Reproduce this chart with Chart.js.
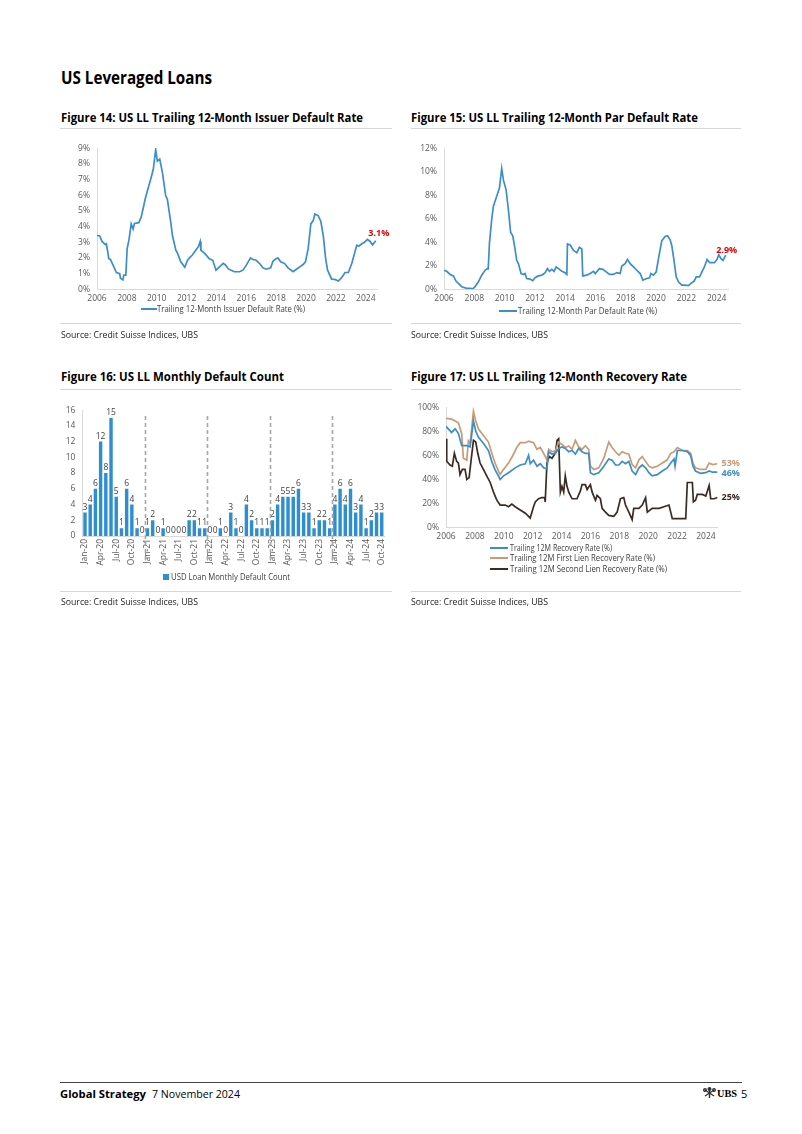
<!DOCTYPE html>
<html><head><meta charset="utf-8">
<script src="https://cdn.jsdelivr.net/npm/chart.js@4.4.0/dist/chart.umd.min.js"></script>
<style>
html,body{margin:0;padding:0;background:#fff;}
body{width:802px;height:1134px;position:relative;overflow:hidden;font-family:"Open Sans",sans-serif;color:#000;}
.t{position:absolute;white-space:nowrap;line-height:1;transform-origin:0 50%;transform:translateY(-50%);}
.b{font-weight:700;}
.rule{position:absolute;height:1px;background:#d6d6d6;}
canvas{position:absolute;}
.lg{position:absolute;height:2px;}
</style></head><body>

<div class="t b" style="left:61px;top:77px;font-size:17px" data-w="151">US Leveraged Loans</div>

<div class="t b" style="left:61px;top:118px;font-size:12px" data-w="302">Figure 14: US LL Trailing 12-Month Issuer Default Rate</div>
<div class="rule" style="left:60px;top:128px;width:332px"></div>
<div class="t b" style="left:411px;top:118px;font-size:12px" data-w="287">Figure 15: US LL Trailing 12-Month Par Default Rate</div>
<div class="rule" style="left:411px;top:128px;width:330px"></div>

<canvas id="c1" width="335" height="170" style="left:60px;top:136px"></canvas>
<canvas id="c2" width="340" height="170" style="left:405px;top:136px"></canvas>

<div class="lg" style="left:141px;top:308px;width:16px;background:#3b8ec8"></div>
<div class="t" style="left:157px;top:309px;font-size:8.5px;color:#404040" data-w="148">Trailing 12-Month Issuer Default Rate (%)</div>
<div class="lg" style="left:499px;top:310px;width:18px;background:#3b8ec8"></div>
<div class="t" style="left:518px;top:311px;font-size:8.5px;color:#404040" data-w="139">Trailing 12-Month Par Default Rate (%)</div>

<div class="rule" style="left:60px;top:323px;width:332px"></div>
<div class="t" style="left:61px;top:335px;font-size:9.5px;color:#222" data-w="137">Source: Credit Suisse Indices, UBS</div>
<div class="rule" style="left:411px;top:323px;width:330px"></div>
<div class="t" style="left:411px;top:335px;font-size:9.5px;color:#222" data-w="137">Source: Credit Suisse Indices, UBS</div>

<div class="t b" style="left:61px;top:377px;font-size:12px" data-w="223">Figure 16: US LL Monthly Default Count</div>
<div class="rule" style="left:60px;top:389px;width:332px"></div>
<div class="t b" style="left:411px;top:377px;font-size:12px" data-w="276">Figure 17: US LL Trailing 12-Month Recovery Rate</div>
<div class="rule" style="left:411px;top:389px;width:330px"></div>

<canvas id="c3" width="340" height="175" style="left:55px;top:398px"></canvas>
<canvas id="c4" width="360" height="150" style="left:405px;top:395px"></canvas>

<div style="position:absolute;left:163px;top:574px;width:6px;height:6px;background:#2e8ece"></div>
<div class="t" style="left:171px;top:577px;font-size:8.5px;color:#404040" data-w="119">USD Loan Monthly Default Count</div>

<div class="lg" style="left:490px;top:547px;width:18px;background:#3b8ec8"></div>
<div class="t" style="left:510px;top:548px;font-size:8.5px;color:#404040" data-w="102">Trailing 12M Recovery Rate (%)</div>
<div class="lg" style="left:490px;top:557px;width:18px;background:#c99a74"></div>
<div class="t" style="left:510px;top:558px;font-size:8.5px;color:#404040" data-w="145">Trailing 12M First Lien Recovery Rate (%)</div>
<div class="lg" style="left:490px;top:568px;width:18px;background:#3a2c24"></div>
<div class="t" style="left:510px;top:569px;font-size:8.5px;color:#404040" data-w="157">Trailing 12M Second Lien Recovery Rate (%)</div>

<div class="rule" style="left:60px;top:591px;width:332px"></div>
<div class="t" style="left:61px;top:602px;font-size:9.5px;color:#222" data-w="137">Source: Credit Suisse Indices, UBS</div>
<div class="rule" style="left:411px;top:591px;width:330px"></div>
<div class="t" style="left:411px;top:602px;font-size:9.5px;color:#222" data-w="137">Source: Credit Suisse Indices, UBS</div>

<div class="rule" style="left:60px;top:1082px;width:682px;background:#444"></div>
<div class="t b" style="left:60px;top:1093px;font-size:11px" data-w="86">Global Strategy</div>
<div class="t" style="left:152px;top:1093px;font-size:11px" data-w="88">7 November 2024</div>
<svg style="position:absolute;left:703px;top:1087px" width="13" height="12" viewBox="0 0 13 12">
  <g stroke="#333" stroke-width="1.4" fill="none">
    <line x1="6.5" y1="1" x2="6.5" y2="11"/><line x1="2" y1="3" x2="11" y2="9"/><line x1="11" y1="3" x2="2" y2="9"/>
    <circle cx="6.5" cy="2" r="1.3"/><circle cx="2" cy="3" r="1.3"/><circle cx="11" cy="3" r="1.3"/>
  </g>
</svg>
<div class="t b" style="left:717px;top:1093px;font-size:11px;font-family:'Liberation Serif',serif" data-w="20">UBS</div>
<div class="t" style="left:741px;top:1093px;font-size:11px">5</div>

<script>
// ---------------- DATA ----------------
const issuerDefaultRate = [
[2006.00,3.43],[2006.18,3.40],[2006.34,3.05],[2006.56,2.85],[2006.63,2.90],[2006.79,1.95],[2006.90,1.90],
[2007.12,1.45],[2007.30,1.07],[2007.52,1.00],[2007.57,0.70],[2007.73,0.60],[2007.80,0.90],[2007.93,0.90],
[2008.02,2.60],[2008.15,3.20],[2008.29,4.17],[2008.42,3.85],[2008.51,4.20],[2008.80,4.25],[2008.96,4.60],
[2009.25,5.85],[2009.59,7.00],[2009.77,7.65],[2009.93,8.90],[2010.04,8.17],[2010.20,8.30],[2010.38,7.45],
[2010.60,5.96],[2010.71,5.75],[2010.94,4.27],[2011.05,3.43],[2011.28,2.50],[2011.39,2.30],[2011.61,1.75],
[2011.88,1.40],[2012.06,1.85],[2012.24,2.05],[2012.40,2.20],[2012.62,2.50],[2012.78,2.70],[2012.91,3.05],
[2012.96,2.48],[2013.23,2.27],[2013.52,1.95],[2013.75,1.85],[2013.97,1.22],[2014.20,1.43],[2014.45,1.65],
[2014.60,1.55],[2014.80,1.30],[2014.98,1.22],[2015.20,1.12],[2015.54,1.12],[2015.77,1.22],[2016.00,1.54],
[2016.28,2.00],[2016.44,1.90],[2016.66,1.85],[2016.89,1.64],[2017.11,1.37],[2017.33,1.28],[2017.63,1.37],
[2017.78,1.79],[2018.01,1.96],[2018.12,2.00],[2018.30,1.75],[2018.57,1.64],[2018.79,1.37],[2019.13,1.12],
[2019.35,1.28],[2019.58,1.43],[2019.80,1.58],[2019.96,1.75],[2020.14,2.59],[2020.32,4.17],[2020.48,4.38],
[2020.59,4.80],[2020.81,4.70],[2020.99,4.32],[2021.15,3.43],[2021.31,1.96],[2021.44,1.22],[2021.71,0.65],
[2021.93,0.63],[2022.16,0.53],[2022.38,0.74],[2022.61,1.07],[2022.83,1.07],[2023.06,1.64],[2023.24,2.27],
[2023.39,2.80],[2023.55,2.76],[2023.73,2.90],[2023.91,3.00],[2024.11,3.18],[2024.29,3.05],[2024.45,2.84],
[2024.67,3.10]];

const parDefaultRate = [
[2006.00,1.62],[2006.18,1.53],[2006.40,1.26],[2006.62,1.14],[2006.79,0.70],[2006.95,0.50],[2007.17,0.22],
[2007.50,0.08],[2007.72,0.08],[2007.89,0.03],[2008.05,0.22],[2008.27,0.64],[2008.49,1.20],[2008.71,1.62],
[2008.86,1.76],[2008.92,1.75],[2009.00,3.90],[2009.15,5.95],[2009.26,7.06],[2009.48,7.90],[2009.66,8.60],
[2009.81,10.27],[2009.92,9.30],[2010.10,8.45],[2010.25,6.78],[2010.40,4.83],[2010.54,4.55],[2010.69,3.43],
[2010.80,2.46],[2010.91,2.18],[2011.09,1.34],[2011.24,1.26],[2011.35,1.34],[2011.46,0.92],[2011.68,0.87],
[2011.86,0.73],[2012.01,0.98],[2012.23,1.14],[2012.46,1.20],[2012.68,1.42],[2012.83,1.76],[2012.96,1.53],
[2013.12,1.70],[2013.27,1.53],[2013.40,1.90],[2013.56,1.76],[2013.78,1.53],[2014.00,1.40],[2014.11,1.26],
[2014.15,3.85],[2014.33,3.77],[2014.55,3.30],[2014.77,3.10],[2014.94,3.57],[2015.10,3.43],[2015.16,1.14],
[2015.43,1.20],[2015.65,1.34],[2015.87,1.53],[2015.98,1.34],[2016.26,1.76],[2016.49,1.70],[2016.71,1.48],
[2016.93,1.26],[2017.19,1.26],[2017.41,1.42],[2017.63,1.34],[2017.74,1.98],[2017.96,2.18],[2018.11,2.54],
[2018.29,2.18],[2018.51,1.90],[2018.73,1.62],[2018.95,1.34],[2019.13,0.78],[2019.39,0.92],[2019.57,0.98],
[2019.66,1.34],[2019.83,1.20],[2020.01,1.48],[2020.16,2.60],[2020.38,4.13],[2020.60,4.49],[2020.76,4.55],
[2020.93,4.21],[2021.04,3.71],[2021.20,2.32],[2021.33,1.06],[2021.48,0.64],[2021.70,0.36],[2021.92,0.36],
[2022.14,0.31],[2022.30,0.50],[2022.52,0.70],[2022.65,1.06],[2022.87,1.06],[2023.03,1.48],[2023.19,1.90],
[2023.37,2.54],[2023.54,2.26],[2023.70,2.26],[2023.85,2.26],[2024.03,2.54],[2024.14,2.93],[2024.29,2.60],
[2024.42,2.46],[2024.60,2.90]];

const countMonths = [
'Jan-20','Feb-20','Mar-20','Apr-20','May-20','Jun-20','Jul-20','Aug-20','Sep-20','Oct-20','Nov-20','Dec-20',
'Jan-21','Feb-21','Mar-21','Apr-21','May-21','Jun-21','Jul-21','Aug-21','Sep-21','Oct-21','Nov-21','Dec-21',
'Jan-22','Feb-22','Mar-22','Apr-22','May-22','Jun-22','Jul-22','Aug-22','Sep-22','Oct-22','Nov-22','Dec-22',
'Jan-23','Feb-23','Mar-23','Apr-23','May-23','Jun-23','Jul-23','Aug-23','Sep-23','Oct-23','Nov-23','Dec-23',
'Jan-24','Feb-24','Mar-24','Apr-24','May-24','Jun-24','Jul-24','Aug-24','Sep-24','Oct-24'];
const monthlyDefaultCount = [
3,4,6,12,8,15,5,1,6,4,1,0,
1,2,0,1,0,0,0,0,2,2,1,1,
0,0,1,0,3,1,0,4,2,1,1,1,
2,4,5,5,5,6,3,3,1,2,2,1,
4,6,4,6,3,4,1,2,3,3];

const recoveryTotal = [
[2006.00,84],[2006.39,79],[2006.63,82],[2006.86,78],[2007.09,68],[2007.44,68],[2007.67,67],[2007.90,88.5],
[2008.06,80],[2008.25,75],[2008.59,70],[2008.94,64],[2009.17,55],[2009.40,48],[2009.63,43],[2009.75,40],
[2009.98,43],[2010.33,45.6],[2010.79,49.6],[2011.14,52],[2011.49,53],[2011.72,60],[2011.83,53],[2012.06,56],
[2012.30,51],[2012.53,53],[2012.76,49.6],[2012.99,48.8],[2013.11,63],[2013.34,61],[2013.57,61.6],[2013.80,65.7],
[2014.03,67],[2014.26,65.7],[2014.50,63],[2014.73,64],[2014.96,61],[2015.19,65.7],[2015.42,63],[2015.65,61.6],
[2015.88,61.6],[2016.00,45.6],[2016.23,44],[2016.58,45.6],[2016.93,51],[2017.27,57],[2017.50,56],[2017.74,52],
[2017.97,52],[2018.20,55],[2018.43,53],[2018.66,55],[2018.89,47],[2019.13,44],[2019.36,49.6],[2019.59,52],
[2019.82,49.6],[2020.05,45.6],[2020.28,43],[2020.63,44],[2020.98,47],[2021.32,49.6],[2021.56,53.6],[2021.79,57],
[2021.86,51],[2022.02,64],[2022.37,64],[2022.71,63],[2022.94,60],[2023.10,51],[2023.28,47],[2023.63,45],
[2023.99,45.6],[2024.22,47],[2024.45,46],[2024.80,46]];

const recoveryFirstLien = [
[2006.00,90.6],[2006.39,90],[2006.63,88.5],[2006.86,87],[2007.09,77.7],[2007.20,57.6],[2007.44,56],[2007.55,72],
[2007.67,69.7],[2007.90,96.5],[2008.06,88.5],[2008.25,81.8],[2008.59,76.4],[2008.94,71],[2009.17,61.7],[2009.40,53.6],
[2009.63,47],[2009.75,44.2],[2009.98,48.3],[2010.33,53.6],[2010.56,58.4],[2010.90,66.5],[2011.14,70.5],[2011.49,70.5],
[2011.72,71.8],[2012.06,70.5],[2012.30,65],[2012.53,66.5],[2012.76,61.7],[2012.99,56.3],[2013.11,65],[2013.34,63],
[2013.57,63.8],[2013.80,71],[2014.03,69],[2014.26,66.5],[2014.50,67.8],[2014.73,65],[2014.96,72.4],[2015.19,67],
[2015.42,65],[2015.65,68],[2015.88,65],[2016.00,51],[2016.23,48.3],[2016.58,49.6],[2016.93,57.6],[2017.27,71],
[2017.50,66.5],[2017.74,63],[2017.97,60],[2018.20,63],[2018.43,61.7],[2018.66,61],[2018.89,52.3],[2019.13,49.6],
[2019.36,56.3],[2019.59,59],[2019.82,55],[2020.05,51],[2020.28,49.6],[2020.63,51],[2020.98,53.6],[2021.32,56.3],
[2021.56,61.7],[2021.79,63],[2022.02,66.5],[2022.37,64],[2022.71,64],[2022.94,61.7],[2023.10,53.6],[2023.28,49.6],
[2023.63,48.3],[2023.99,48.3],[2024.22,53.6],[2024.45,52.3],[2024.80,53]];

const recoverySecondLien = [
[2006.00,73.7],[2006.05,55],[2006.28,52],[2006.44,51],[2006.58,61.7],[2006.74,55],[2006.86,53.6],[2006.97,44],
[2007.13,48.3],[2007.32,48.3],[2007.44,40],[2007.60,41.5],[2007.74,56],[2007.90,72.4],[2008.06,71],[2008.20,61.7],
[2008.36,53.6],[2008.59,48.3],[2008.82,43],[2009.06,37.5],[2009.29,29.5],[2009.52,22.8],[2009.75,18.8],[2010.10,18.8],
[2010.33,17.4],[2010.56,19.6],[2010.79,17.4],[2011.14,14.7],[2011.49,12],[2011.72,9.4],[2011.83,8],[2011.95,12.9],
[2012.06,17.4],[2012.18,21.4],[2012.41,24],[2012.64,25],[2012.83,25],[2012.87,21.4],[2012.99,53.6],[2013.15,59],
[2013.34,57.6],[2013.57,61.7],[2013.69,72.4],[2013.80,73.7],[2013.92,29.5],[2014.03,34.3],[2014.15,29.5],[2014.26,43],
[2014.38,34.3],[2014.50,29.5],[2014.73,24],[2015.07,24],[2015.30,30.3],[2015.42,35.7],[2015.65,35.7],[2015.77,31.6],
[2016.00,35.7],[2016.12,29.5],[2016.35,22.8],[2016.46,26.8],[2016.69,24],[2016.81,16],[2017.04,12.9],[2017.27,10.2],
[2017.62,9.4],[2017.85,12.9],[2018.08,24],[2018.31,25],[2018.43,18.8],[2018.66,12.9],[2018.89,6.7],[2019.00,16],
[2019.36,16],[2019.59,18.8],[2019.82,25],[2019.94,12.9],[2020.28,16],[2020.75,16],[2021.09,17.4],[2021.44,18.8],
[2021.56,12.9],[2021.67,7.5],[2022.60,7.5],[2022.71,37.5],[2023.06,37.5],[2023.13,21.4],[2023.28,22.8],[2023.40,27.6],
[2023.75,27.6],[2023.99,26.3],[2024.22,35],[2024.33,24],[2024.56,24],[2024.80,25]];

const yearTicks = {min: 2006, step: 2};

// ---------------- STYLE ----------------
const BLUE = '#3b8ec8', BAR = '#2e8ece', TAN = '#c99a74', DARK = '#3a2c24';
const tickFont = {family: '"Open Sans"', size: 8.5};
const tickColor = '#595959';
const axisColor = '#d9d9d9';
const pts = arr => arr.map(p => ({x: p[0], y: p[1]}));

// end-of-line value labels
const endLabels = {
  id: 'endLabels',
  afterDatasetsDraw(chart, args, opts) {
    const ctx = chart.ctx;
    (opts.items || []).forEach(it => {
      const meta = chart.getDatasetMeta(it.ds);
      const last = meta.data[meta.data.length - 1];
      const data = chart.data.datasets[it.ds].data;
      const v = data[data.length - 1].y;
      ctx.save();
      ctx.font = '700 9px "Open Sans"';
      ctx.fillStyle = it.color;
      ctx.textAlign = it.align || 'center';
      ctx.textBaseline = 'middle';
      ctx.fillText(it.fmt(v), last.x + it.dx, last.y + it.dy);
      ctx.restore();
    });
  }
};

function fitPlot(chart, canvasLeft, canvasTop, tgt) {
  for (let k = 0; k < 2; k++) {
    const ca = chart.chartArea;
    const p = chart.config.options.layout.padding;
    p.left += (tgt.l - canvasLeft) - ca.left;
    p.top += (tgt.t - canvasTop) - ca.top;
    p.right += ca.right - (tgt.r - canvasLeft);
    p.bottom += ca.bottom - (tgt.b - canvasTop);
    chart.update('none');
  }
}

function lineOpts(yMax, yStep, xMax, items) {
  return {
    responsive: false, animation: false, devicePixelRatio: 1,
    layout: {padding: {left: 0, top: 0, right: 0, bottom: 0}},
    plugins: {legend: {display: false}, tooltip: {enabled: false}, endLabels: {items}},
    elements: {point: {radius: 0}, line: {borderWidth: 1.7, tension: 0}},
    scales: {
      x: {type: 'linear', min: yearTicks.min, max: xMax,
          grid: {display: false, drawTicks: false}, border: {display: true, color: axisColor},
          ticks: {stepSize: yearTicks.step, includeBounds: false, autoSkip: false, maxRotation: 0,
                  padding: 4, font: tickFont, color: tickColor, callback: v => String(v)}},
      y: {min: 0, max: yMax,
          grid: {display: false, drawTicks: false}, border: {display: true, color: axisColor},
          ticks: {stepSize: yStep, padding: 7, font: tickFont, color: tickColor, callback: v => v + '%'}}
    }
  };
}

// Figure 14
const ch1 = new Chart(document.getElementById('c1'), {
  type: 'line',
  data: {datasets: [{label: 'Trailing 12-Month Issuer Default Rate (%)', data: pts(issuerDefaultRate), borderColor: BLUE}]},
  options: lineOpts(9, 1, 2024.75, [{ds: 0, color: '#e60000', dx: 3, dy: -7, fmt: v => v.toFixed(1) + '%'}]),
  plugins: [endLabels]
});
fitPlot(ch1, 60, 136, {l: 97, t: 146.7, r: 377, b: 289.3});

// Figure 15
const ch2 = new Chart(document.getElementById('c2'), {
  type: 'line',
  data: {datasets: [{label: 'Trailing 12-Month Par Default Rate (%)', data: pts(parDefaultRate), borderColor: BLUE}]},
  options: lineOpts(12, 2, 2024.75, [{ds: 0, color: '#e60000', dx: 1, dy: -5, fmt: v => v.toFixed(1) + '%'}]),
  plugins: [endLabels]
});
fitPlot(ch2, 405, 136, {l: 444, t: 145.7, r: 728, b: 289.3});

// Figure 17
const ch4 = new Chart(document.getElementById('c4'), {
  type: 'line',
  data: {datasets: [
    {label: 'Trailing 12M Recovery Rate (%)', data: pts(recoveryTotal), borderColor: BLUE},
    {label: 'Trailing 12M First Lien Recovery Rate (%)', data: pts(recoveryFirstLien), borderColor: TAN},
    {label: 'Trailing 12M Second Lien Recovery Rate (%)', data: pts(recoverySecondLien), borderColor: DARK}
  ]},
  options: lineOpts(100, 20, 2024.8, [
    {ds: 1, color: TAN, dx: 4, dy: 0, align: 'left', fmt: v => Math.round(v) + '%'},
    {ds: 0, color: BLUE, dx: 4, dy: 1, align: 'left', fmt: v => Math.round(v) + '%'},
    {ds: 2, color: DARK, dx: 4, dy: 0, align: 'left', fmt: v => Math.round(v) + '%'}
  ]),
  plugins: [endLabels]
});
fitPlot(ch4, 405, 395, {l: 446, t: 404.5, r: 717.5, b: 527.7});

// Figure 16
const barLabels = {
  id: 'barLabels',
  afterDatasetsDraw(chart) {
    const ctx = chart.ctx, meta = chart.getDatasetMeta(0), data = chart.data.datasets[0].data;
    ctx.save();
    ctx.font = '8.5px "Open Sans"'; ctx.fillStyle = '#404040';
    ctx.textAlign = 'center'; ctx.textBaseline = 'bottom';
    meta.data.forEach((bar, i) => ctx.fillText(String(data[i]), bar.x, bar.y - 1));
    ctx.restore();
  }
};
const yearSeparators = {
  id: 'yearSeparators',
  afterDraw(chart) {
    const xs = chart.scales.x, ca = chart.chartArea, ctx = chart.ctx;
    ctx.save();
    ctx.strokeStyle = '#a6a6a6'; ctx.lineWidth = 1.6; ctx.setLineDash([4, 3]);
    chart.data.labels.forEach((lab, i) => {
      if (i > 0 && lab.startsWith('Jan')) {
        const x = Math.round((xs.getPixelForValue(i - 1) + xs.getPixelForValue(i)) / 2) + 0.5;
        ctx.beginPath(); ctx.moveTo(x, ca.top + 6); ctx.lineTo(x, ca.bottom + 26); ctx.stroke();
      }
    });
    ctx.restore();
  }
};
const ch3 = new Chart(document.getElementById('c3'), {
  type: 'bar',
  data: {labels: countMonths, datasets: [{label: 'USD Loan Monthly Default Count', data: monthlyDefaultCount,
         backgroundColor: BAR, barPercentage: 0.66, categoryPercentage: 1.0}]},
  options: {
    responsive: false, animation: false, devicePixelRatio: 1,
    layout: {padding: {left: 0, top: 0, right: 0, bottom: 0}},
    plugins: {legend: {display: false}, tooltip: {enabled: false}},
    scales: {
      x: {grid: {display: false, drawTicks: false}, border: {display: true, color: axisColor},
          ticks: {autoSkip: false, minRotation: 90, maxRotation: 90, padding: 3, font: tickFont, color: tickColor,
                  callback: function(v, i) { return i % 3 === 0 ? this.getLabelForValue(v) : ''; }}},
      y: {min: 0, max: 16, grid: {display: false, drawTicks: false}, border: {display: true, color: axisColor},
          ticks: {stepSize: 2, padding: 7, font: tickFont, color: tickColor}}
    }
  },
  plugins: [barLabels, yearSeparators]
});
fitPlot(ch3, 55, 398, {l: 82.4, t: 409, r: 380.9, b: 536});

// fit text widths
document.querySelectorAll('[data-w]').forEach(el => {
  const w = el.getBoundingClientRect().width;
  el.style.transform = 'translateY(-50%) scaleX(' + (parseFloat(el.dataset.w) / w) + ')';
});
</script>
</body></html>
